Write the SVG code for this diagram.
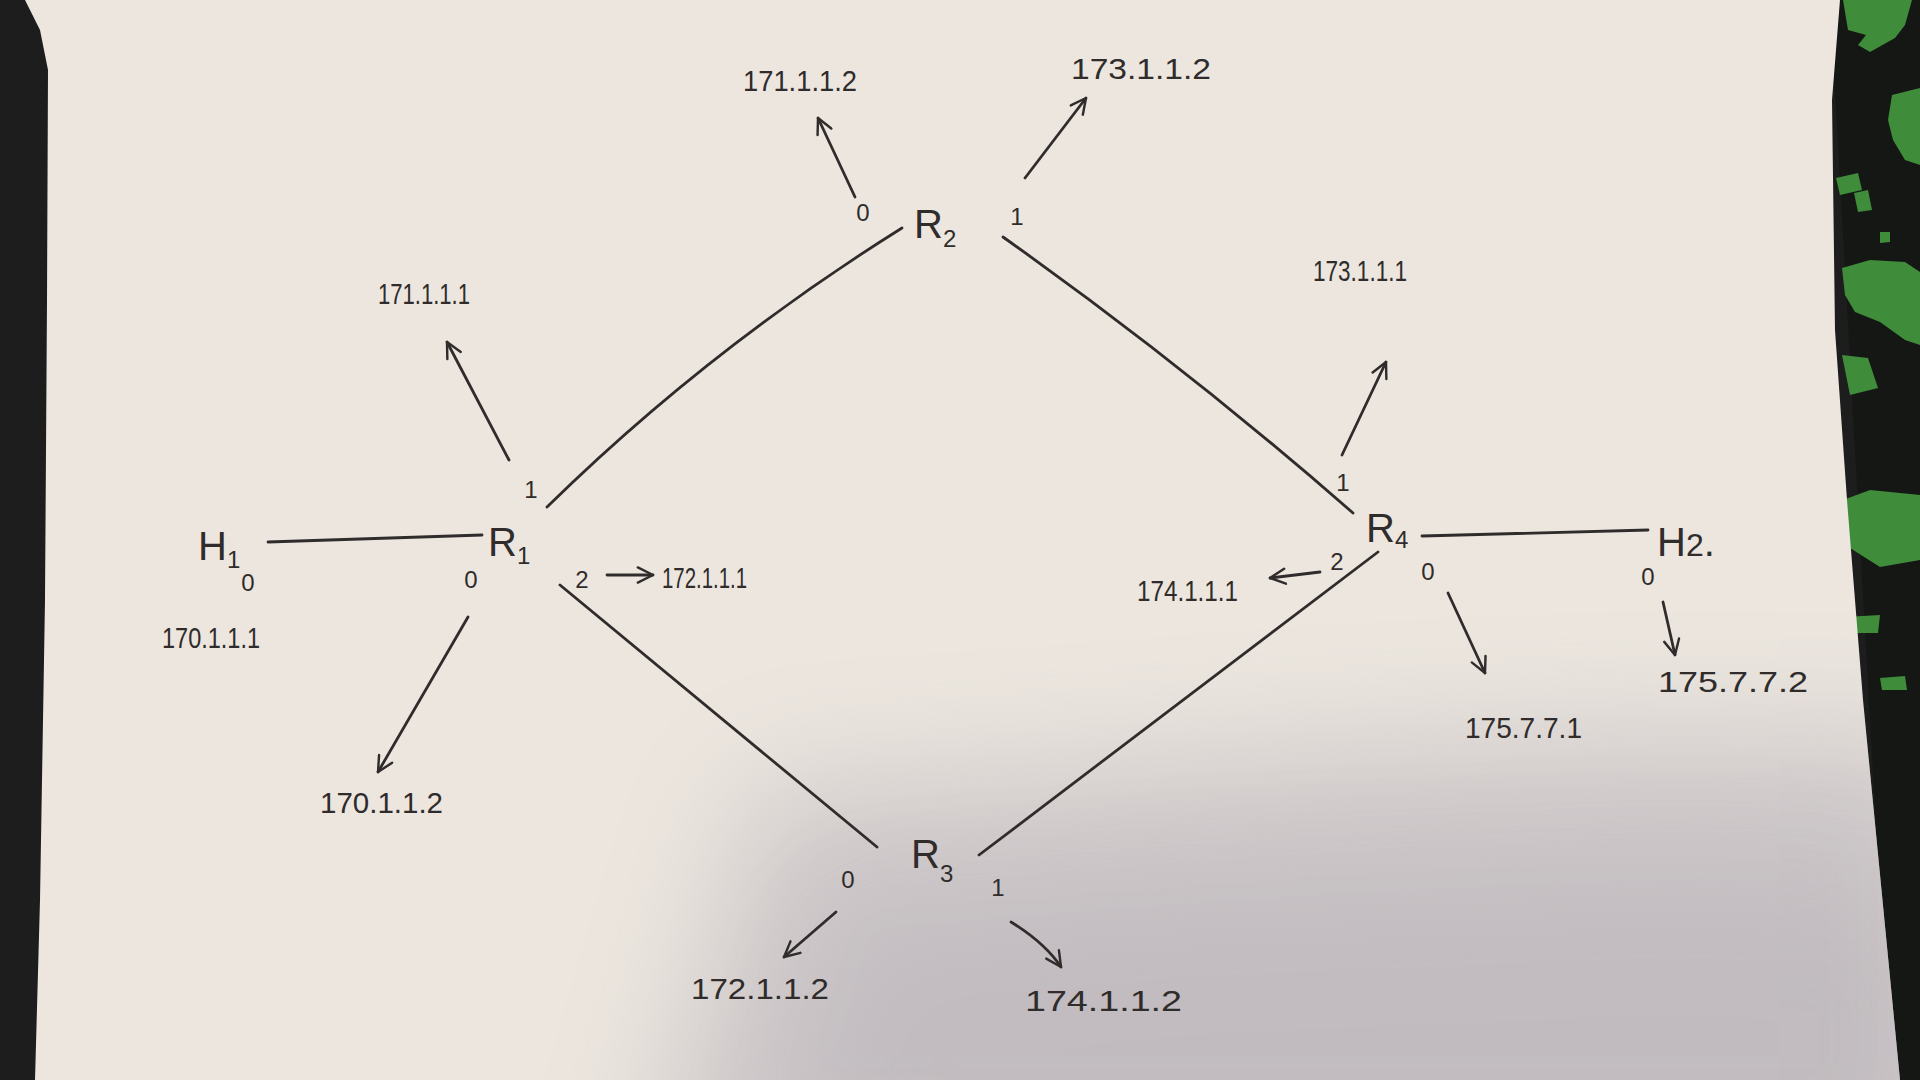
<svg xmlns="http://www.w3.org/2000/svg" width="1920" height="1080" viewBox="0 0 1920 1080">
  <defs>
    <filter id="blur" x="-60%" y="-60%" width="220%" height="220%">
      <feGaussianBlur stdDeviation="60"/>
    </filter>
    <clipPath id="paperClip">
      <path d="M25,0 L1840,0 L1832,100 L1835,330 L1847,500 L1863,700 L1900,1080 L35,1080 L40,900 L45,600 L47,300 L48,70 L40,30 Z"/>
    </clipPath>
    <marker id="arr" viewBox="0 0 12 12" refX="11" refY="6" markerWidth="6.5" markerHeight="6.5" markerUnits="strokeWidth" orient="auto">
      <path d="M1,1 L11,6 L1,11" fill="none" stroke="#2f2c2b" stroke-width="1.6" stroke-linecap="round" stroke-linejoin="round"/>
    </marker>
    <style>
      .ink { stroke: #2f2c2b; stroke-width: 2.8; fill: none; stroke-linecap: round; }
      .arrow { stroke: #2f2c2b; stroke-width: 2.8; fill: none; stroke-linecap: round; marker-end: url(#arr); }
      .ip { font-family: "Liberation Sans", Arial, sans-serif; fill: #2f2c2b; font-size: 30px; }
      .node { font-family: "Liberation Sans", Arial, sans-serif; fill: #2f2c2b; font-size: 40px; }
      .sub { font-size: 24px; }
      .port { font-family: "Liberation Sans", Arial, sans-serif; fill: #2f2c2b; font-size: 24px; text-anchor: middle; }
      .green { fill: #3f8c3b; }
    </style>
  </defs>

  <!-- background: table and paper -->
  <rect x="0" y="0" width="1920" height="1080" fill="#1d1d1d"/>
  <g id="table-right">
    <path d="M1830,0 L1920,0 L1920,1080 L1890,1080 Z" fill="#141714"/>
    <path class="green" d="M1843,0 L1912,0 L1905,25 L1895,38 L1870,52 L1858,45 L1866,35 L1848,30 Z"/>
    <path class="green" d="M1892,95 L1920,88 L1920,165 L1905,160 L1893,140 L1888,120 Z"/>
    <path class="green" d="M1836,178 L1858,173 L1862,190 L1840,195 Z"/>
    <path class="green" d="M1854,193 L1868,190 L1872,210 L1858,212 Z"/>
    <path class="green" d="M1880,232 L1890,232 L1890,242 L1880,243 Z"/>
    <path class="green" d="M1842,268 L1870,260 L1905,262 L1920,272 L1920,345 L1905,340 L1880,322 L1855,312 L1845,295 Z"/>
    <path class="green" d="M1842,355 L1868,358 L1878,388 L1850,395 Z"/>
    <path class="green" d="M1843,500 L1870,490 L1920,495 L1920,560 L1880,567 L1850,548 Z"/>
    <path class="green" d="M1845,617 L1880,615 L1878,633 L1848,633 Z"/>
    <path class="green" d="M1880,678 L1905,676 L1907,690 L1882,690 Z"/>
  </g>
  <path id="paper" d="M25,0 L1840,0 L1832,100 L1835,330 L1847,500 L1863,700 L1900,1080 L35,1080 L40,900 L45,600 L47,300 L48,70 L40,30 Z" fill="#ece6df"/>
  <g id="shadow" clip-path="url(#paperClip)">
    <path d="M760,790 L1000,775 L1350,748 L1650,735 L1950,740 L1950,1200 L640,1200 Z" fill="#a39dab" opacity="0.42" filter="url(#blur)"/>
    <path d="M840,920 L1200,890 L1700,870 L1950,890 L1950,1200 L780,1200 Z" fill="#9a94a0" opacity="0.22" filter="url(#blur)"/>
  </g>

  <!-- connectors -->
  <g id="connectors">
    <path class="ink" d="M268,542 L482,535"/>
    <path class="ink" d="M547,507 Q707,350 902,228"/>
    <path class="ink" d="M1003,237 Q1185,366 1353,513"/>
    <path class="ink" d="M560,585 L877,847"/>
    <path class="ink" d="M979,855 L1378,552"/>
    <path class="ink" d="M1422,536 L1648,530"/>

    <path class="arrow" d="M855,197 L818,118"/>
    <path class="arrow" d="M1025,178 L1086,98"/>
    <path class="arrow" d="M509,460 L447,342"/>
    <path class="arrow" d="M607,575 L653,575"/>
    <path class="arrow" d="M468,617 L378,772"/>
    <path class="arrow" d="M1342,455 L1386,362"/>
    <path class="arrow" d="M1320,572 L1270,578"/>
    <path class="arrow" d="M1448,593 L1485,673"/>
    <path class="arrow" d="M1663,602 L1675,655"/>
    <path class="arrow" d="M836,912 L784,957"/>
    <path class="arrow" d="M1011,922 Q1045,943 1061,967"/>
  </g>

  <!-- nodes -->
  <g id="H1">
    <text class="node" x="198" y="560">H<tspan class="sub" dy="8">1</tspan></text>
    <text class="port" x="248" y="591">0</text>
    <text class="ip" x="162" y="648" textLength="98" lengthAdjust="spacingAndGlyphs">170.1.1.1</text>
  </g>
  <g id="R1">
    <text class="node" x="488" y="556">R<tspan class="sub" dy="8">1</tspan></text>
    <text class="port" x="531" y="498">1</text>
    <text class="port" x="471" y="588">0</text>
    <text class="port" x="582" y="588">2</text>
    <text class="ip" x="378" y="304" textLength="92" lengthAdjust="spacingAndGlyphs">171.1.1.1</text>
    <text class="ip" x="662" y="588" textLength="85" lengthAdjust="spacingAndGlyphs">172.1.1.1</text>
    <text class="ip" x="320" y="813" textLength="123" lengthAdjust="spacingAndGlyphs">170.1.1.2</text>
  </g>
  <g id="R2">
    <text class="node" x="914" y="238">R<tspan class="sub" dy="9">2</tspan></text>
    <text class="port" x="863" y="221">0</text>
    <text class="port" x="1017" y="225">1</text>
    <text class="ip" x="743" y="91" textLength="114" lengthAdjust="spacingAndGlyphs">171.1.1.2</text>
    <text class="ip" x="1071" y="79" textLength="140" lengthAdjust="spacingAndGlyphs">173.1.1.2</text>
  </g>
  <g id="R3">
    <text class="node" x="911" y="868">R<tspan class="sub" dy="14">3</tspan></text>
    <text class="port" x="848" y="888">0</text>
    <text class="port" x="998" y="896">1</text>
    <text class="ip" x="691" y="999" textLength="138" lengthAdjust="spacingAndGlyphs">172.1.1.2</text>
    <text class="ip" x="1025" y="1011" textLength="157" lengthAdjust="spacingAndGlyphs">174.1.1.2</text>
  </g>
  <g id="R4">
    <text class="node" x="1366" y="542">R<tspan class="sub" dy="6">4</tspan></text>
    <text class="port" x="1343" y="491">1</text>
    <text class="port" x="1337" y="570">2</text>
    <text class="port" x="1428" y="580">0</text>
    <text class="ip" x="1313" y="281" textLength="94" lengthAdjust="spacingAndGlyphs">173.1.1.1</text>
    <text class="ip" x="1137" y="601" textLength="101" lengthAdjust="spacingAndGlyphs">174.1.1.1</text>
    <text class="ip" x="1465" y="738" textLength="117" lengthAdjust="spacingAndGlyphs">175.7.7.1</text>
  </g>
  <g id="H2">
    <text class="node" x="1657" y="556">H<tspan font-size="32">2</tspan>.</text>
    <text class="port" x="1648" y="585">0</text>
    <text class="ip" x="1658" y="692" textLength="150" lengthAdjust="spacingAndGlyphs">175.7.7.2</text>
  </g>
</svg>
